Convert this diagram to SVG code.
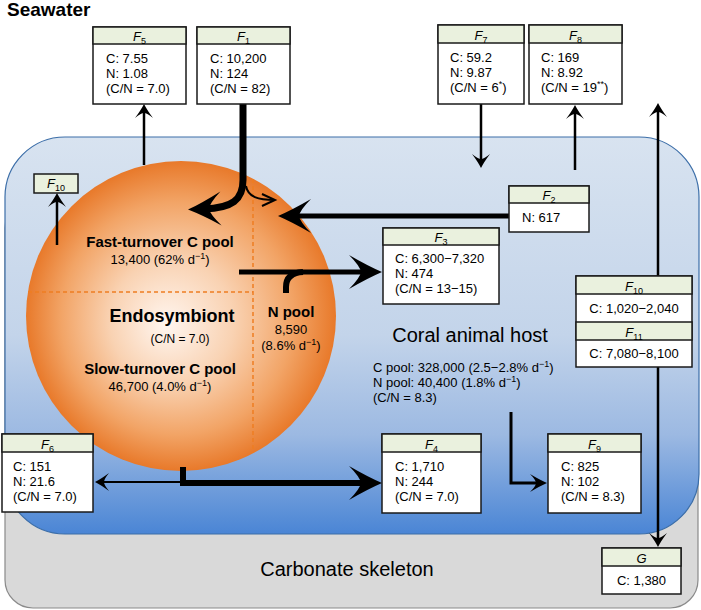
<svg xmlns="http://www.w3.org/2000/svg" xmlns:xlink="http://www.w3.org/1999/xlink" width="701" height="610" viewBox="0 0 701 610">
<style>
text{font-family:"Liberation Sans",Arial,sans-serif;fill:#000}
.bt{font-size:13px}
.hd{font-size:13px;text-anchor:middle}
.hd .f{font-style:italic}
.sub{font-size:9px}
.body{fill:#fff;stroke:#1a1a1a;stroke-width:1.5}
.head{fill:#eaf1de;stroke:#1a1a1a;stroke-width:1.5}
.ln{fill:none;stroke:#000;stroke-linejoin:miter}
.big{font-weight:bold}
</style>
<defs>
<linearGradient id="blue" x1="0" y1="0" x2="0" y2="1">
<stop offset="0" stop-color="#d8e3f0"/>
<stop offset="0.5" stop-color="#c3d4ea"/>
<stop offset="0.75" stop-color="#9cb9e2"/>
<stop offset="1" stop-color="#4a85d5"/>
</linearGradient>
<radialGradient id="orange" cx="0.5" cy="0.5" r="0.5" fx="0.45" fy="0.53">
<stop offset="0" stop-color="#fff6f0"/>
<stop offset="0.4" stop-color="#f9d2b2"/>
<stop offset="0.75" stop-color="#f2a466"/>
<stop offset="1" stop-color="#e8792a"/>
</radialGradient>
<marker id="ah" markerUnits="userSpaceOnUse" viewBox="-16 -10 18 20" markerWidth="18" markerHeight="20" refX="-6" refY="0" orient="auto" overflow="visible">
<path d="M0,0 Q-6,-3 -14,-9 Q-9,-3 -9,0 Q-9,3 -14,9 Q-6,3 0,0Z" fill="#000"/>
</marker>
<marker id="mh" markerUnits="userSpaceOnUse" viewBox="-18 -10 20 20" markerWidth="20" markerHeight="20" refX="-8" refY="0" orient="auto" overflow="visible">
<path d="M0,0 Q-7,-3 -17,-9 Q-11,-3 -11,0 Q-11,3 -17,9 Q-7,3 0,0Z" fill="#000"/>
</marker>
<marker id="bh" markerUnits="userSpaceOnUse" viewBox="-36 -19 38 38" markerWidth="38" markerHeight="38" refX="-16" refY="0" orient="auto" overflow="visible">
<path d="M0,0 Q-14,-6 -33,-17 Q-22,-6 -21,0 Q-22,6 -33,17 Q-14,6 0,0Z" fill="#000"/>
</marker>
<marker id="vh" markerUnits="userSpaceOnUse" viewBox="-16 -8 18 16" markerWidth="18" markerHeight="16" refX="0" refY="0" orient="auto" overflow="visible">
<path d="M-13,-6 L0,0 L-13,6" fill="none" stroke="#000" stroke-width="2"/>
</marker>
</defs>

<g id="skeleton">
<rect x="5" y="200" width="693" height="408" rx="28" fill="#d9d9d9" stroke="#8a8a8a" stroke-width="1.2"/>
<text x="347" y="576" font-size="20" text-anchor="middle">Carbonate skeleton</text>
</g>

<g id="host">
<rect x="5" y="137" width="694" height="397" rx="60" fill="url(#blue)" stroke="#3c6ea8" stroke-width="1.2"/>
<text x="470" y="342" font-size="20" text-anchor="middle">Coral animal host</text>
<text class="bt" x="373" y="372">C pool: 328,000 (2.5−2.8% d<tspan class="sub" dy="-5">−1</tspan><tspan dy="5">)</tspan></text>
<text class="bt" x="373" y="387">N pool: 40,400 (1.8% d<tspan class="sub" dy="-5">−1</tspan><tspan dy="5">)</tspan></text>
<text class="bt" x="373" y="402">(C/N = 8.3)</text>
</g>

<text id="seawater" x="7" y="16" font-size="19" class="big">Seawater</text>

<g id="endosymbiont">
<circle cx="181" cy="316" r="155" fill="url(#orange)"/>
<path d="M253,179 V453 M28,292 H253" fill="none" stroke="#ee7d22" stroke-width="1.5" stroke-dasharray="4,3"/>
<text x="160" y="247" font-size="15" class="big" text-anchor="middle">Fast-turnover C pool</text>
<text x="160" y="264" font-size="13" text-anchor="middle">13,400 (62% d<tspan class="sub" dy="-5">−1</tspan><tspan dy="5">)</tspan></text>
<text x="172" y="322" font-size="18" class="big" text-anchor="middle">Endosymbiont</text>
<text x="180" y="343" font-size="12" text-anchor="middle">(C/N = 7.0)</text>
<text x="160" y="374" font-size="15" class="big" text-anchor="middle">Slow-turnover C pool</text>
<text x="160" y="391" font-size="13" text-anchor="middle">46,700 (4.0% d<tspan class="sub" dy="-5">−1</tspan><tspan dy="5">)</tspan></text>
<text x="291" y="317" font-size="15" class="big" text-anchor="middle">N pool</text>
<text x="291" y="334" font-size="13" text-anchor="middle">8,590</text>
<text x="291" y="350" font-size="13" text-anchor="middle">(8.6% d<tspan class="sub" dy="-5">−1</tspan><tspan dy="5">)</tspan></text>
</g>

<g id="connectors">
<path class="ln" d="M243,104 L243,180 C243,200 232,208 204,209" stroke-width="7" marker-end="url(#bh)"/>
<path class="ln" d="M246,186 C248,197 258,200 275,200" stroke-width="2" marker-end="url(#vh)"/>
<path class="ln" d="M509,216 L294,216" stroke-width="5" marker-end="url(#bh)"/>
<path class="ln" d="M239,272 L366,272" stroke-width="5" marker-end="url(#bh)"/>
<path class="ln" d="M286,293 L286,287 Q286,273 303,272" stroke-width="6"/>
<path class="ln" d="M183,467 L183,483 L366,483" stroke-width="6" marker-end="url(#bh)"/>
<path class="ln" d="M183,482 L101,482" stroke-width="2" marker-end="url(#ah)"/>
<path class="ln" d="M511,412 L511,483 L539,483" stroke-width="3" marker-end="url(#mh)"/>
<path class="ln" d="M144,165 L144,110" stroke-width="2.5" marker-end="url(#ah)"/>
<path class="ln" d="M481,104 L481,162" stroke-width="2.5" marker-end="url(#ah)"/>
<path class="ln" d="M575,170 L575,111" stroke-width="2.5" marker-end="url(#ah)"/>
<path class="ln" d="M658,276 L658,109" stroke-width="2.5" marker-end="url(#ah)"/>
<path class="ln" d="M658,367 L658,541" stroke-width="2.5" marker-end="url(#ah)"/>
<path class="ln" d="M57,245 L57,199" stroke-width="2.5" marker-end="url(#ah)"/>
</g>

<g id="F5">
<rect class="body" x="93" y="27" width="93" height="77"/>
<rect class="head" x="93" y="27" width="93" height="17"/>
<text class="hd" x="139.5" y="41"><tspan class="f">F</tspan><tspan class="sub" dy="3">5</tspan></text>
<text class="bt" x="106" y="63">C: 7.55</text>
<text class="bt" x="106" y="78">N: 1.08</text>
<text class="bt" x="106" y="93">(C/N = 7.0)</text>
</g>

<g id="F1">
<rect class="body" x="197" y="27" width="93" height="77"/>
<rect class="head" x="197" y="27" width="93" height="17"/>
<text class="hd" x="243.5" y="41"><tspan class="f">F</tspan><tspan class="sub" dy="3">1</tspan></text>
<text class="bt" x="210" y="63">C: 10,200</text>
<text class="bt" x="210" y="78">N: 124</text>
<text class="bt" x="210" y="93">(C/N = 82)</text>
</g>

<g id="F7">
<rect class="body" x="438" y="25" width="86" height="79"/>
<rect class="head" x="438" y="25" width="86" height="18"/>
<text class="hd" x="481" y="40"><tspan class="f">F</tspan><tspan class="sub" dy="3">7</tspan></text>
<text class="bt" x="450" y="62">C: 59.2</text>
<text class="bt" x="450" y="77">N: 9.87</text>
<text class="bt" x="450" y="92">(C/N = 6<tspan class="sub" dy="-5">*</tspan><tspan dy="5">)</tspan></text>
</g>

<g id="F8">
<rect class="body" x="529" y="25" width="93" height="79"/>
<rect class="head" x="529" y="25" width="93" height="18"/>
<text class="hd" x="575.5" y="40"><tspan class="f">F</tspan><tspan class="sub" dy="3">8</tspan></text>
<text class="bt" x="541" y="62">C: 169</text>
<text class="bt" x="541" y="77">N: 8.92</text>
<text class="bt" x="541" y="92">(C/N = 19<tspan class="sub" dy="-5">**</tspan><tspan dy="5">)</tspan></text>
</g>

<g id="F10a">
<rect class="head" x="34" y="174" width="44" height="19"/>
<text class="hd" x="56" y="188"><tspan class="f">F</tspan><tspan class="sub" dy="3">10</tspan></text>
</g>

<g id="F2">
<rect class="body" x="509" y="186" width="80" height="46"/>
<rect class="head" x="509" y="186" width="80" height="17"/>
<text class="hd" x="549" y="200"><tspan class="f">F</tspan><tspan class="sub" dy="3">2</tspan></text>
<text class="bt" x="522" y="222">N: 617</text>
</g>

<g id="F3">
<rect class="body" x="383" y="228" width="116" height="76"/>
<rect class="head" x="383" y="228" width="116" height="17"/>
<text class="hd" x="441" y="242"><tspan class="f">F</tspan><tspan class="sub" dy="3">3</tspan></text>
<text class="bt" x="395" y="263">C: 6,300−7,320</text>
<text class="bt" x="395" y="278">N: 474</text>
<text class="bt" x="395" y="293">(C/N = 13−15)</text>
</g>

<g id="F10F11">
<rect class="body" x="576" y="276" width="116" height="91"/>
<rect class="head" x="576" y="276" width="116" height="18"/>
<text class="hd" x="634" y="291"><tspan class="f">F</tspan><tspan class="sub" dy="3">10</tspan></text>
<text class="bt" x="634" y="313" text-anchor="middle">C: 1,020−2,040</text>
<rect class="head" x="576" y="322" width="116" height="18"/>
<text class="hd" x="634" y="337"><tspan class="f">F</tspan><tspan class="sub" dy="3">11</tspan></text>
<text class="bt" x="634" y="358" text-anchor="middle">C: 7,080−8,100</text>
</g>

<g id="F6">
<rect class="body" x="2" y="434" width="91" height="78"/>
<rect class="head" x="2" y="434" width="91" height="18"/>
<text class="hd" x="47.5" y="449"><tspan class="f">F</tspan><tspan class="sub" dy="3">6</tspan></text>
<text class="bt" x="13" y="471">C: 151</text>
<text class="bt" x="13" y="486">N: 21.6</text>
<text class="bt" x="13" y="501">(C/N = 7.0)</text>
</g>

<g id="F4">
<rect class="body" x="382" y="434" width="99" height="79"/>
<rect class="head" x="382" y="434" width="99" height="18"/>
<text class="hd" x="431.5" y="449"><tspan class="f">F</tspan><tspan class="sub" dy="3">4</tspan></text>
<text class="bt" x="395" y="471">C: 1,710</text>
<text class="bt" x="395" y="486">N: 244</text>
<text class="bt" x="395" y="501">(C/N = 7.0)</text>
</g>

<g id="F9">
<rect class="body" x="548" y="434" width="93" height="79"/>
<rect class="head" x="548" y="434" width="93" height="18"/>
<text class="hd" x="594.5" y="449"><tspan class="f">F</tspan><tspan class="sub" dy="3">9</tspan></text>
<text class="bt" x="561" y="471">C: 825</text>
<text class="bt" x="561" y="486">N: 102</text>
<text class="bt" x="561" y="501">(C/N = 8.3)</text>
</g>

<g id="G">
<rect class="body" x="602" y="548" width="79" height="46"/>
<rect class="head" x="602" y="548" width="79" height="18"/>
<text class="hd" x="641.5" y="563"><tspan class="f">G</tspan></text>
<text class="bt" x="641.5" y="585" text-anchor="middle">C: 1,380</text>
</g>
</svg>
